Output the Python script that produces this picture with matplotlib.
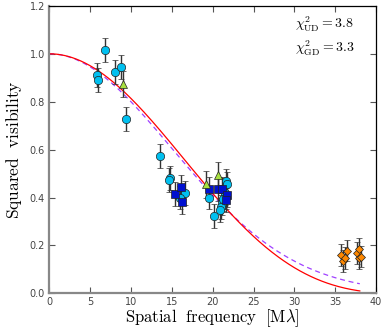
import matplotlib
matplotlib.use("Agg")
import matplotlib.pyplot as plt
import numpy as np

# observed squared visibilities, grouped by instrument / marker style
cyan_x = [5.8, 6.0, 6.8, 8.05, 8.8, 9.4, 13.5, 14.77, 14.6, 16.6, 16.0,
          19.6, 21.6, 21.7, 21.5, 21.6, 21.1, 21.0, 20.9, 20.2, 21.3]
cyan_y = [0.91, 0.89, 1.014, 0.923, 0.944, 0.728, 0.573, 0.483, 0.475, 0.419, 0.40,
          0.40, 0.469, 0.455, 0.417, 0.403, 0.378, 0.361, 0.347, 0.322, 0.392]
cyan_err = [0.05] * len(cyan_x)

blue_x = [15.4, 16.16, 16.3, 19.55, 20.7, 21.2, 21.8, 21.6]
blue_y = [0.414, 0.444, 0.382, 0.437, 0.437, 0.437, 0.41, 0.389]
blue_err = [0.05] * len(blue_x)

green_x = [9.0, 19.2, 20.6]
green_y = [0.875, 0.455, 0.493]
green_err = [0.055, 0.055, 0.055]

orange_x = [35.7, 35.9, 36.2, 36.4, 37.65, 37.9, 37.95, 38.2]
orange_y = [0.16, 0.136, 0.148, 0.178, 0.168, 0.187, 0.146, 0.153]
orange_err = [0.045, 0.045, 0.045, 0.045, 0.045, 0.045, 0.045, 0.045]

# fitted model parameters (pi * theta per Mlambda)
ud_scale = 0.090
gd_scale = 0.0556
chi2_ud = 3.8
chi2_gd = 3.3


def bessel_j1(z):
    tau = np.linspace(0, np.pi, 400)
    vals = np.cos(tau[None, :] - z[:, None] * np.sin(tau[None, :]))
    return np.trapezoid(vals, tau, axis=1) / np.pi


freq = np.linspace(0.001, 38.0, 400)
z = ud_scale * freq
v2_ud = (2 * bessel_j1(z) / z) ** 2
v2_gd = np.exp(-(gd_scale * freq) ** 2 / (2 * np.log(2)))

plt.rcParams["mathtext.fontset"] = "cm"

fig = plt.figure(figsize=(3.87, 3.27), dpi=100)
ax = fig.add_axes([0.127, 0.103, 0.845, 0.879])

ax.plot(freq, v2_gd, color="#a040ff", linestyle="--", linewidth=0.9, dashes=(4, 3))
ax.plot(freq, v2_ud, color="red", linewidth=0.9)

ebkw = dict(ecolor="#333333", elinewidth=1.0, capsize=2, capthick=0.8,
            linestyle="none", markeredgecolor="#222222", markeredgewidth=0.5)
ax.errorbar(cyan_x, cyan_y, yerr=cyan_err, fmt="o", color="#00c0f0", markersize=6, **ebkw)
ax.errorbar(blue_x, blue_y, yerr=blue_err, fmt="s", color="#0010d0", markersize=5.5, **ebkw)
ax.errorbar(green_x, green_y, yerr=green_err, fmt="^", color="#a8e040", markersize=5.5, **ebkw)
ax.errorbar(orange_x, orange_y, yerr=orange_err, fmt="D", color="#ff8800", markersize=4.3, **ebkw)

ax.text(30.1, 1.105, r"$\chi^2_{\rm UD}{\rm =%.1f}$" % chi2_ud, fontsize=10)
ax.text(30.1, 1.005, r"$\chi^2_{\rm GD}{\rm =%.1f}$" % chi2_gd, fontsize=10)

ax.set_xlim(0, 40)
ax.set_ylim(0, 1.2)
ax.set_xticks(range(0, 41, 5))
ax.set_yticks(np.arange(0, 1.21, 0.2))
ax.set_xticklabels([str(t) for t in range(0, 41, 5)])
ax.set_yticklabels([f"{t:.1f}" for t in np.arange(0, 1.21, 0.2)])
ax.tick_params(direction="in", top=True, right=True, labelsize=7,
               labelcolor="#444444", color="#555555", length=4, pad=3)

for side in ("left", "bottom"):
    ax.spines[side].set_color("#888888")
    ax.spines[side].set_linewidth(1.6)
for side in ("top", "right"):
    ax.spines[side].set_color("black")
    ax.spines[side].set_linewidth(0.9)

ax.set_xlabel(r"$\mathrm{Spatial\ \ frequency\ \ [M\lambda]}$", fontsize=12, labelpad=-0.5)
ax.set_ylabel(r"$\mathrm{Squared\ \ visibility}$", fontsize=12.5, labelpad=4)

fig.savefig("out.png", dpi=100)
